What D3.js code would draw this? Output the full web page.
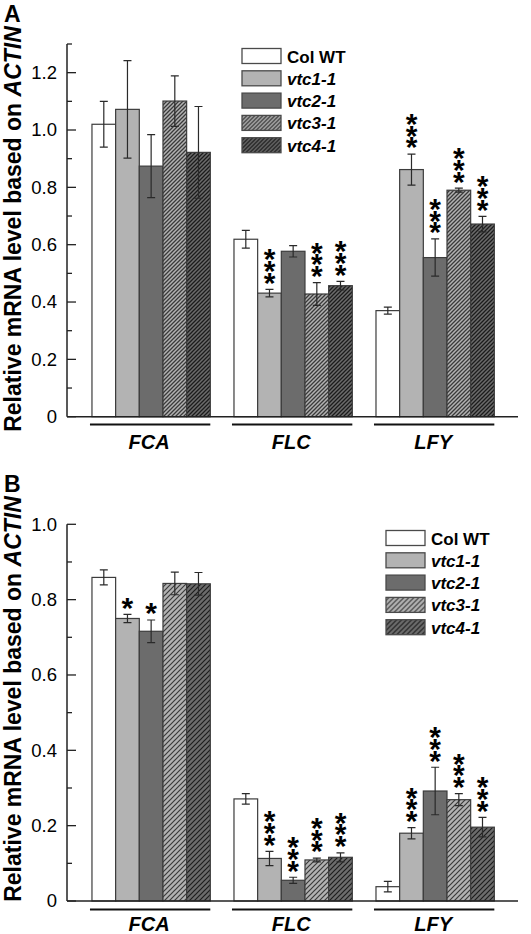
<!DOCTYPE html>
<html>
<head>
<meta charset="utf-8">
<script src="https://cdn.jsdelivr.net/npm/d3@7"></script>
<style>
  html, body { margin: 0; padding: 0; background: #fff; }
  svg { display: block; font-family: "Liberation Sans", Arial, sans-serif; }
</style>
</head>
<body>
<svg id="chart" width="531" height="934"></svg>
<script>
// ---------- data ----------
const genes = ["FCA", "FLC", "LFY"];
const lines = ["Col WT", "vtc1-1", "vtc2-1", "vtc3-1", "vtc4-1"];

// Panel A
const meansA = [
  [1.02, 1.072, 0.874, 1.101, 0.922],
  [0.619, 0.431, 0.577, 0.428, 0.457],
  [0.370, 0.862, 0.555, 0.790, 0.672]
];
const errsA = [
  [0.08, 0.17, 0.11, 0.088, 0.16],
  [0.031, 0.013, 0.02, 0.04, 0.015],
  [0.012, 0.054, 0.065, 0.007, 0.027]
];
const sigA = [
  ["", "", "", "", ""],
  ["", "***", "", "***", "***"],
  ["", "***", "***", "***", "***"]
];
const majorTicksA = [0, 0.2, 0.4, 0.6, 0.8, 1.0, 1.2];
const tickLabelsA = ["0", "0.2", "0.4", "0.6", "0.8", "1.0", "1.2"];
const minorTicksA = [0.1, 0.3, 0.5, 0.7, 0.9, 1.1, 1.3];

// Panel B
const meansB = [
  [0.859, 0.750, 0.716, 0.843, 0.842],
  [0.271, 0.113, 0.055, 0.109, 0.116],
  [0.038, 0.180, 0.292, 0.269, 0.196]
];
const errsB = [
  [0.02, 0.011, 0.03, 0.03, 0.03],
  [0.014, 0.019, 0.008, 0.005, 0.012],
  [0.014, 0.015, 0.063, 0.016, 0.026]
];
const sigB = [
  ["", "*", "*", "", ""],
  ["", "***", "***", "***", "***"],
  ["", "***", "***", "***", "***"]
];
const majorTicksB = [0, 0.2, 0.4, 0.6, 0.8, 1.0];
const tickLabelsB = ["0", "0.2", "0.4", "0.6", "0.8", "1.0"];
const minorTicksB = [0.1, 0.3, 0.5, 0.7, 0.9];

// ---------- drawing ----------
const svg = d3.select("#chart");
const defs = svg.append("defs");

function makeHatch(id, bg, fg, s, w) {
  const p = defs.append("pattern")
    .attr("id", id).attr("patternUnits", "userSpaceOnUse")
    .attr("width", s).attr("height", s);
  p.append("rect").attr("width", s).attr("height", s).attr("fill", bg);
  p.append("path")
    .attr("d", `M${-s/2},${s/2} L${s/2},${-s/2} M0,${s} L${s},0 M${s/2},${s*1.5} L${s*1.5},${s/2}`)
    .attr("stroke", fg).attr("stroke-width", w);
}
makeHatch("h3a", "#b2b2b2", "#3a3a3a", 4, 1.3);
makeHatch("h4a", "#6c6c6c", "#1c1c1c", 4, 1.3);
makeHatch("h3b", "#b2b2b2", "#3a3a3a", 5, 1.2);
makeHatch("h4b", "#6c6c6c", "#1c1c1c", 5, 1.2);

function fills(suffix) {
  return ["#ffffff", "#b3b3b3", "#6c6c6c", `url(#h3${suffix})`, `url(#h4${suffix})`];
}

const axisX0 = 67, axisX1 = 518;
const x = d3.scaleBand().domain(genes).range([68.3, 518]).paddingInner(1/6).paddingOuter(1/6);
const xs = d3.scaleBand().domain(lines).range([0, x.bandwidth()]);

function panel(cfg) {
  const g = svg.append("g");
  const y = d3.scaleLinear().domain([0, cfg.max]).range([cfg.y0, cfg.yTop]);
  const fill = fills(cfg.suffix);

  // panel letter
  g.append("text").attr("x", 4).attr("y", cfg.letterY)
    .attr("font-size", 23).attr("font-weight", "bold").attr("fill", "#000").text(cfg.letter);

  // y title
  const t = g.append("text")
    .attr("transform", `translate(20.5,${cfg.titleY}) rotate(-90)`)
    .attr("text-anchor", "middle").attr("font-size", 23).attr("font-weight", "bold").attr("fill", "#000");
  t.append("tspan").text("Relative mRNA level based on ");
  t.append("tspan").attr("font-style", "italic").text("ACTIN");

  // bars
  const data = [];
  genes.forEach((gene, gi) => lines.forEach((ln, li) => {
    data.push({gene, ln, li, v: cfg.means[gi][li], e: cfg.errs[gi][li], s: cfg.sig[gi][li]});
  }));
  g.selectAll("rect.bar").data(data).enter().append("rect")
    .attr("class", "bar")
    .attr("x", d => x(d.gene) + xs(d.ln))
    .attr("y", d => y(d.v))
    .attr("width", xs.bandwidth())
    .attr("height", d => y(0) - y(d.v))
    .attr("fill", d => fill[d.li])
    .attr("stroke", "#3c3c3c").attr("stroke-width", 1.2);

  // error bars
  const cx = d => x(d.gene) + xs(d.ln) + xs.bandwidth() / 2;
  const eg = g.append("g").attr("stroke", "#2a2a2a").attr("stroke-width", 1.2).attr("fill", "none");
  eg.selectAll("path").data(data).enter().append("path")
    .attr("d", d => {
      const c = cx(d), t = y(d.v + d.e), b = y(d.v - d.e);
      return `M${c},${t}V${b}M${c-4},${t}H${c+4}M${c-4},${b}H${c+4}`;
    });

  // significance stars: one line of text running upward, each glyph turned upright
  const fs = 30;
  data.filter(d => d.s).forEach(d => {
    const c = cx(d), top = y(d.v + d.e);
    g.append("text")
      .attr("transform", `translate(${c - 0.195 * fs},${top - 14 + 0.58 * fs}) rotate(-90)`)
      .attr("rotate", d.s.split("").map(() => 90).join(" "))
      .attr("font-size", fs).attr("font-weight", "bold").attr("fill", "#000")
      .text(d.s);
  });

  // axes
  const ax = g.append("g").attr("stroke", "#222").attr("fill", "none");
  ax.append("line").attr("x1", axisX0).attr("x2", axisX0).attr("y1", cfg.yTop).attr("y2", y(0)).attr("stroke-width", 1.5);
  ax.append("line").attr("x1", axisX0).attr("x2", axisX1).attr("y1", y(0)).attr("y2", y(0)).attr("stroke-width", 1.5);
  ax.selectAll("line.maj").data(cfg.major).enter().append("line")
    .attr("x1", axisX0).attr("x2", axisX0 + 9).attr("y1", d => y(d)).attr("y2", d => y(d)).attr("stroke-width", 1.3);
  ax.selectAll("line.min").data(cfg.minor).enter().append("line")
    .attr("x1", axisX0).attr("x2", axisX0 + 5).attr("y1", d => y(d)).attr("y2", d => y(d)).attr("stroke-width", 1.3);
  g.selectAll("text.tl").data(cfg.major).enter().append("text")
    .attr("x", 57).attr("y", d => y(d)).attr("dy", "0.35em")
    .attr("text-anchor", "end").attr("font-size", 18.5).attr("fill", "#000")
    .text((d, i) => cfg.labels[i]);

  // group underlines & labels
  g.selectAll("line.grp").data(genes).enter().append("line")
    .attr("x1", d => x(d) - 2).attr("x2", d => x(d) + x.bandwidth())
    .attr("y1", cfg.underY).attr("y2", cfg.underY)
    .attr("stroke", "#111").attr("stroke-width", 2);
  g.selectAll("text.grp").data(genes).enter().append("text")
    .attr("x", d => x(d) + x.bandwidth() / 2 - 2).attr("y", cfg.geneY)
    .attr("text-anchor", "middle").attr("font-size", 20).attr("font-weight", "bold")
    .attr("font-style", "italic").attr("fill", "#000").text(d => d);

  // legend
  const lg = g.append("g").attr("transform", `translate(${cfg.legX},${cfg.legY})`);
  lines.forEach((ln, i) => {
    lg.append("rect").attr("x", 0).attr("y", i * 22.3).attr("width", 39).attr("height", 15)
      .attr("fill", fill[i]).attr("stroke", "#4a4a4a").attr("stroke-width", 1.3);
    lg.append("text").attr("x", 45).attr("y", i * 22.3 + 14)
      .attr("font-size", 17).attr("font-weight", "bold")
      .attr("font-style", i === 0 ? "normal" : "italic").attr("fill", "#000").text(ln);
  });
}

panel({
  letter: "A", letterY: 21.7, titleY: 229, suffix: "a",
  means: meansA, errs: errsA, sig: sigA, max: 1.3,
  y0: 416.7, yTop: 44, major: majorTicksA, minor: minorTicksA, labels: tickLabelsA,
  underY: 424.5, geneY: 448.5, legX: 242, legY: 48.5
});
panel({
  letter: "B", letterY: 491.7, titleY: 699, suffix: "b",
  means: meansB, errs: errsB, sig: sigB, max: 1.0,
  y0: 901, yTop: 524.3, major: majorTicksB, minor: minorTicksB, labels: tickLabelsB,
  underY: 909.5, geneY: 931, legX: 386, legY: 530.5
});
</script>
</body>
</html>
